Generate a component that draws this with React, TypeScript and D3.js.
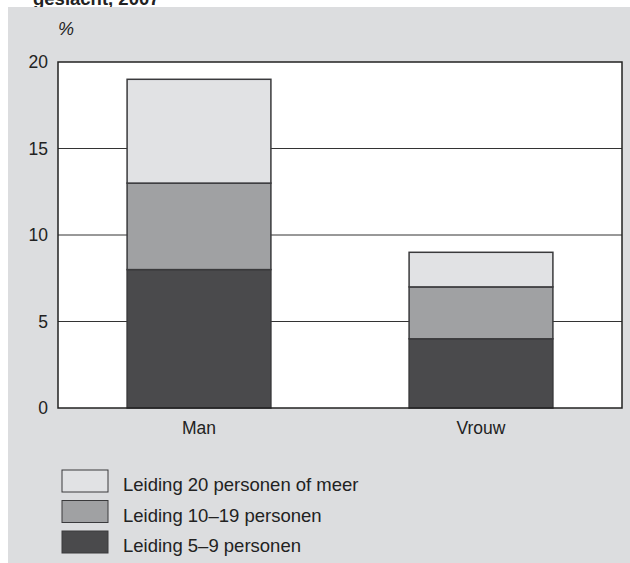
import React from "react";
import * as d3 from "d3";

const categories = ["Man", "Vrouw"];
const seriesNames = ["Leiding 5–9 personen", "Leiding 10–19 personen", "Leiding 20 personen of meer"];
const lead5to9 = [8, 4];
const lead10to19 = [5, 3];
const lead20plus = [6, 2];
const yTicks = [0, 5, 10, 15, 20];
const seriesColors = ["#4a4a4c", "#a0a1a3", "#e1e2e4"];

const W = 630;
const H = 563;
const plot = { left: 58, right: 622, top: 62, bottom: 408 };
const FONT = "'Liberation Sans', Arial, Helvetica, sans-serif";

export default function App() {
  const x = d3.scaleBand<string>().domain(categories).range([plot.left, plot.right]).padding(0);
  const y = d3.scaleLinear().domain([0, 20]).range([plot.bottom, plot.top]);
  const barW = x.bandwidth() * 0.51;

  const rows = categories.map((c, i) => ({
    cat: c,
    s0: lead5to9[i],
    s1: lead10to19[i],
    s2: lead20plus[i],
  }));
  const stack = d3.stack<any>().keys(["s0", "s1", "s2"])(rows);

  const legendItems = [
    { name: seriesNames[2], color: seriesColors[2] },
    { name: seriesNames[1], color: seriesColors[1] },
    { name: seriesNames[0], color: seriesColors[0] },
  ];

  return (
    <svg
      width={W}
      height={H}
      style={{ position: "absolute", left: 0, top: 0, fontFamily: FONT }}
    >
      <text x={33} y={5} fontSize={18.5} fontWeight="bold" fill="#222">
        geslacht, 2007
      </text>
      <rect x={8} y={7} width={W - 8} height={H - 7} fill="#dcdddf" />
      <text x={58} y={35} fontSize={18} fontStyle="italic" fill="#222">
        %
      </text>

      <rect
        x={plot.left}
        y={plot.top}
        width={plot.right - plot.left}
        height={plot.bottom - plot.top}
        fill="#ffffff"
      />
      {yTicks.filter((t) => t > 0 && t < 20).map((t) => (
        <line
          key={t}
          x1={plot.left}
          x2={plot.right}
          y1={y(t)}
          y2={y(t)}
          stroke="#333"
          strokeWidth={1}
        />
      ))}

      {stack.map((layer, li) =>
        layer.map((d, i) => {
          const cx = (x(categories[i]) as number) + x.bandwidth() / 2;
          return (
            <rect
              key={`${li}-${i}`}
              x={cx - barW / 2}
              y={y(d[1])}
              width={barW}
              height={y(d[0]) - y(d[1])}
              fill={seriesColors[li]}
              stroke="#3a3a3c"
              strokeWidth={1.5}
            />
          );
        })
      )}

      <rect
        x={plot.left}
        y={plot.top}
        width={plot.right - plot.left}
        height={plot.bottom - plot.top}
        fill="none"
        stroke="#222"
        strokeWidth={1.5}
      />

      {yTicks.map((t) => (
        <text
          key={t}
          x={48}
          y={y(t)}
          dy="0.35em"
          textAnchor="end"
          fontSize={17.5}
          fill="#222"
        >
          {t}
        </text>
      ))}

      {categories.map((c) => (
        <text
          key={c}
          x={(x(c) as number) + x.bandwidth() / 2}
          y={434}
          textAnchor="middle"
          fontSize={17.5}
          fill="#222"
        >
          {c}
        </text>
      ))}

      {legendItems.map((it, i) => (
        <g key={it.name} transform={`translate(62, ${470 + i * 30.5})`}>
          <rect width={46} height={22} fill={it.color} stroke="#3a3a3c" strokeWidth={1} />
          <text x={61} y={21} fontSize={18.5} fill="#222">
            {it.name}
          </text>
        </g>
      ))}
    </svg>
  );
}
